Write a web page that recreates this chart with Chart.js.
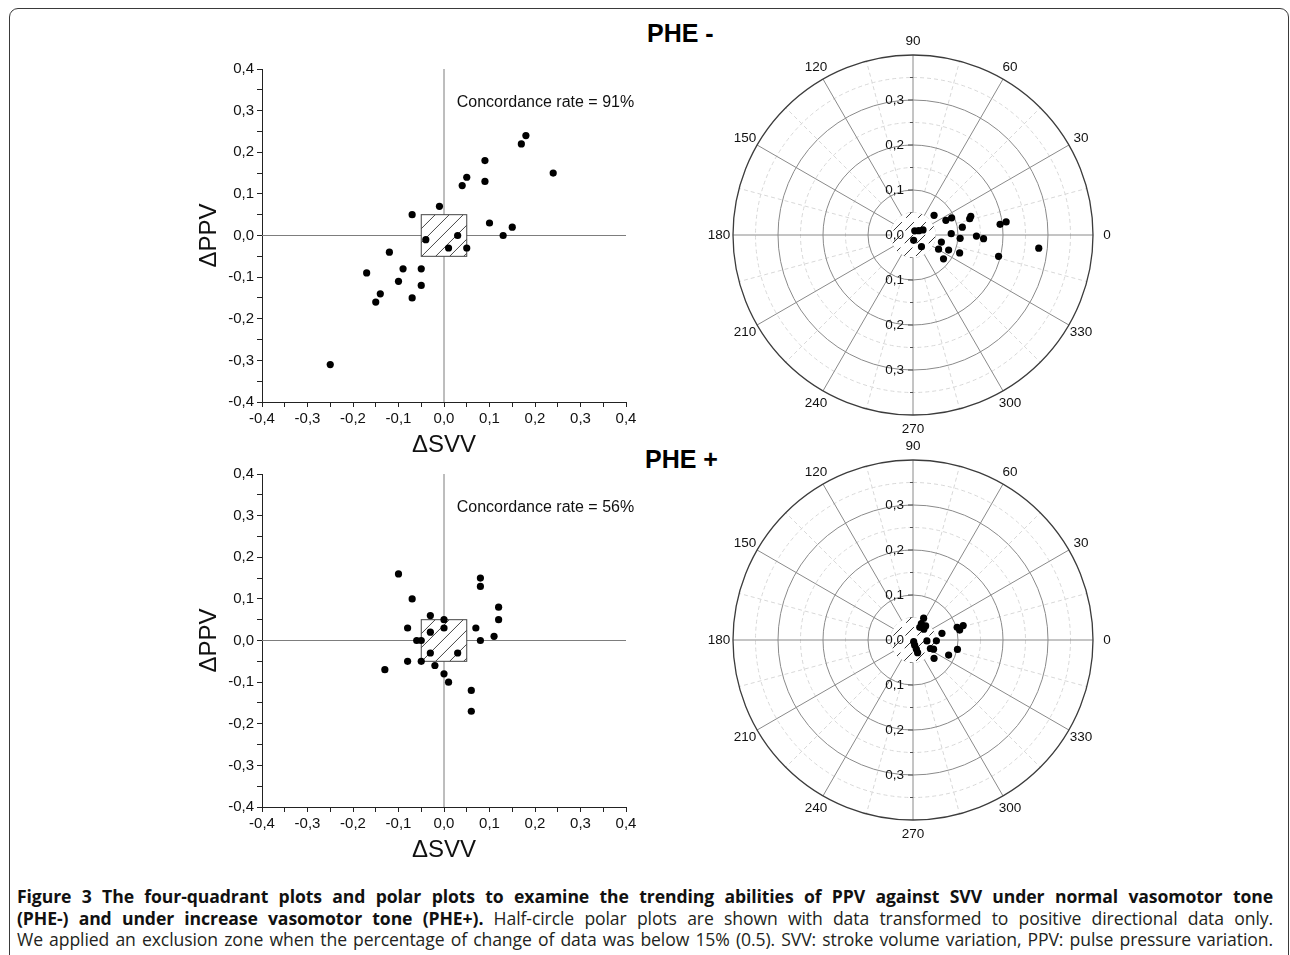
<!DOCTYPE html>
<html>
<head>
<meta charset="utf-8">
<script src="https://cdn.jsdelivr.net/npm/chart.js@4.4.1/dist/chart.umd.min.js"></script>
<style>
  html, body { margin: 0; padding: 0; background: #fff; }
  #page { position: relative; width: 1290px; height: 955px; overflow: hidden; }
  #frame { position: absolute; left: 9px; top: 8px; width: 1278px; height: 1000px;
           border: 1.5px solid #3a3a3a; border-radius: 9px; }
  canvas { position: absolute; }
  .phe { position: absolute; font: bold 25px "Liberation Sans", Arial, sans-serif; color: #000; }
  .cap { position: absolute; left: 17px; width: 1256px; font-family: "Open Sans", sans-serif;
         font-size: 17.6px; color: #231f20; white-space: nowrap; text-align: justify;
         text-align-last: justify; line-height: 21px; letter-spacing: -0.1px; }
  .cap b { color: #111; }
</style>
</head>
<body>
<div id="page">
  <div id="frame"></div>
  <div class="phe" style="left:647px; top:19px;">PHE -</div>
  <div class="phe" style="left:645px; top:445px;">PHE +</div>

  <canvas id="quadTop" width="480" height="410" style="left:170px; top:55px;"></canvas>
  <canvas id="quadBottom" width="480" height="410" style="left:170px; top:460px;"></canvas>
  <canvas id="polarTop" width="440" height="440" style="left:693px; top:15px;"></canvas>
  <canvas id="polarBottom" width="440" height="440" style="left:693px; top:420px;"></canvas>

  <div class="cap" style="top:886px;"><b>Figure 3 The four-quadrant plots and polar plots to examine the trending abilities of PPV against SVV under normal vasomotor tone</b></div>
  <div class="cap" style="top:908px;"><b>(PHE-) and under increase vasomotor tone (PHE+).</b> Half-circle polar plots are shown with data transformed to positive directional data only.</div>
  <div class="cap" style="top:929px;">We applied an exclusion zone when the percentage of change of data was below 15% (0.5). SVV: stroke volume variation, PPV: pulse pressure variation.</div>
</div>

<script>
// ── Four-quadrant data (ΔSVV, ΔPPV) ─────────────────────────────────────
var pheMinusSVV = [-0.25, -0.17, -0.15, -0.14, -0.12, -0.10, -0.09, -0.07, -0.07, -0.05, -0.05, -0.04, -0.01,
                    0.01,  0.03,  0.05,  0.04,  0.05,  0.09,  0.09,  0.10,  0.13,  0.15,  0.17,  0.18,  0.24];
var pheMinusPPV = [-0.31, -0.09, -0.16, -0.14, -0.04, -0.11, -0.08, -0.15,  0.05, -0.08, -0.12, -0.01,  0.07,
                   -0.03,  0.00, -0.03,  0.12,  0.14,  0.18,  0.13,  0.03,  0.00,  0.02,  0.22,  0.24,  0.15];

var phePlusSVV = [-0.13, -0.10, -0.08, -0.08, -0.07, -0.06, -0.05, -0.05, -0.03, -0.03, -0.03, -0.02, 0.00,
                   0.00,  0.00,  0.01,  0.03,  0.06,  0.06,  0.07,  0.08,  0.08,  0.08,  0.11,  0.12,  0.12];
var phePlusPPV = [-0.07,  0.16,  0.03, -0.05,  0.10,  0.00,  0.00, -0.05,  0.06,  0.02, -0.03, -0.06, 0.05,
                   0.03, -0.08, -0.10, -0.03, -0.12, -0.17,  0.03,  0.15,  0.13,  0.00,  0.01,  0.05,  0.08];

// ── Polar data (angle in degrees, radius) ───────────────────────────────
var pheMinusAngle  = [43, 24, 24, 16, 18, 9, 2, 356, 359, 357, 7, 8, 346, 331, 337, 322, 339, 346, 354, 67, 37, 27, 277, 306];
var pheMinusRadius = [0.064, 0.080, 0.094, 0.131, 0.135, 0.111, 0.085, 0.105, 0.141, 0.157, 0.195, 0.209,
                      0.065, 0.065, 0.086, 0.086, 0.111, 0.196, 0.281, 0.010, 0.016, 0.025, 0.012, 0.032];

var phePlusAngle  = [64, 62, 45, 48, 63, 292, 288, 290, 290, 356, 358, 334, 336, 319, 13, 337, 16, 12, 16, 348];
var phePlusRadius = [0.054, 0.032, 0.034, 0.042, 0.041, 0.004, 0.012, 0.022, 0.030, 0.031, 0.052,
                     0.043, 0.050, 0.062, 0.066, 0.086, 0.102, 0.106, 0.116, 0.101];

// ── Axis ticks / labels ─────────────────────────────────────────────────
var exclusionZone = 0.05;
var angleTicks = [0, 30, 60, 90, 120, 150, 180, 210, 240, 270, 300, 330];
var radialMajor = [0.1, 0.2, 0.3];
var radialMinor = [0.05, 0.15, 0.25, 0.35];
var radialMax = 0.4;

var FONT = '"Liberation Sans", Arial, sans-serif';

function fmtTick(v) {
    var k = Math.round(v * 100);
    if (k % 10 !== 0) return '';
    return (k / 100).toFixed(1).replace('.', ',');
}

// ── Crosshair, hatched exclusion box and concordance text ───────────────
var quadrantPlugin = {
    id: 'quadrant',
    beforeDatasetsDraw: function (chart, args, opts) {
        var ctx = chart.ctx, a = chart.chartArea;
        var x = chart.scales.x, y = chart.scales.y;
        var x0 = x.getPixelForValue(0), y0 = y.getPixelForValue(0);
        ctx.save();
        ctx.strokeStyle = '#7d7d7d';
        ctx.lineWidth = 1;
        ctx.beginPath();
        ctx.moveTo(a.left, y0); ctx.lineTo(a.right, y0);
        ctx.moveTo(x0, a.top); ctx.lineTo(x0, a.bottom);
        ctx.stroke();

        var l = x.getPixelForValue(-exclusionZone), r = x.getPixelForValue(exclusionZone);
        var t = y.getPixelForValue(exclusionZone), b = y.getPixelForValue(-exclusionZone);
        ctx.fillStyle = '#fff';
        ctx.fillRect(l, t, r - l, b - t);
        ctx.save();
        ctx.beginPath();
        ctx.rect(l, t, r - l, b - t);
        ctx.clip();
        ctx.strokeStyle = '#333';
        ctx.lineWidth = 0.9;
        ctx.beginPath();
        for (var s = l - (b - t); s < r + 2; s += 14) {
            ctx.moveTo(s, b);
            ctx.lineTo(s + (b - t), t);
        }
        ctx.stroke();
        ctx.restore();
        ctx.strokeStyle = '#444';
        ctx.lineWidth = 1;
        ctx.strokeRect(l, t, r - l, b - t);

        ctx.fillStyle = '#111';
        ctx.font = '16px ' + FONT;
        ctx.textBaseline = 'middle';
        ctx.textAlign = 'left';
        ctx.fillText(opts.text, x.getPixelForValue(0.028), y.getPixelForValue(0.32));
        ctx.restore();
    }
};

function quadChart(id, xs, ys, label) {
    var pts = xs.map(function (v, i) { return { x: v, y: ys[i] }; });
    var axis = function (title, isX) {
        return {
            type: 'linear', min: -0.4, max: 0.4,
            afterFit: function (s) { if (isX) s.height = 63; else s.width = 92; },
            ticks: {
                stepSize: 0.05, autoSkip: false, maxRotation: 0, color: '#111',
                font: { family: FONT, size: 15 }, callback: fmtTick
            },
            grid: { drawOnChartArea: false, tickLength: 5, color: '#222' },
            border: { color: '#222', width: 1 },
            title: {
                display: true, text: title, color: '#111',
                font: { family: FONT, size: 24, lineHeight: 1 },
                padding: isX ? { top: 0, bottom: 8 } : { top: 27, bottom: 0 }
            }
        };
    };
    return new Chart(document.getElementById(id), {
        type: 'scatter',
        data: {
            datasets: [{
                data: pts, backgroundColor: '#000', borderColor: '#000', borderWidth: 0,
                pointRadius: 3.6, pointHoverRadius: 3.6
            }]
        },
        options: {
            responsive: false, animation: false, events: [],
            layout: { padding: { top: 14, right: 24, left: 0, bottom: 0 } },
            plugins: { legend: { display: false }, tooltip: { enabled: false }, quadrant: { text: label } },
            scales: { x: axis('\u0394SVV', true), y: axis('\u0394PPV', false) }
        },
        plugins: [quadrantPlugin]
    });
}

// ── Polar grid drawn on a hidden square x/y scale ───────────────────────
var polarGridPlugin = {
    id: 'polarGrid',
    beforeDatasetsDraw: function (chart) {
        var ctx = chart.ctx, x = chart.scales.x, y = chart.scales.y;
        var cx = x.getPixelForValue(0), cy = y.getPixelForValue(0);
        var u = x.getPixelForValue(1) - cx;
        var R = radialMax * u;
        ctx.save();

        // minor rings and spokes
        ctx.strokeStyle = '#d8d8d8';
        ctx.lineWidth = 1;
        ctx.setLineDash([4, 3]);
        radialMinor.forEach(function (r) {
            ctx.beginPath(); ctx.arc(cx, cy, r * u, 0, Math.PI * 2); ctx.stroke();
        });
        angleTicks.forEach(function (a) {
            var rad = (a + 15) * Math.PI / 180;
            ctx.beginPath();
            ctx.moveTo(cx + Math.cos(rad) * 0.1 * u, cy - Math.sin(rad) * 0.1 * u);
            ctx.lineTo(cx + Math.cos(rad) * R, cy - Math.sin(rad) * R);
            ctx.stroke();
        });
        ctx.setLineDash([]);

        // major rings and spokes
        ctx.strokeStyle = '#8a8a8a';
        radialMajor.forEach(function (r) {
            ctx.beginPath(); ctx.arc(cx, cy, r * u, 0, Math.PI * 2); ctx.stroke();
        });
        angleTicks.forEach(function (a) {
            var rad = a * Math.PI / 180;
            ctx.beginPath();
            ctx.moveTo(cx, cy);
            ctx.lineTo(cx + Math.cos(rad) * R, cy - Math.sin(rad) * R);
            ctx.stroke();
        });

        // radial axis ticks on the vertical line
        ctx.strokeStyle = '#555';
        radialMajor.concat(radialMinor).forEach(function (r) {
            var len = radialMajor.indexOf(r) >= 0 ? 5 : 3;
            [-1, 1].forEach(function (sg) {
                ctx.beginPath();
                ctx.moveTo(cx - len, cy + sg * r * u);
                ctx.lineTo(cx, cy + sg * r * u);
                ctx.stroke();
            });
        });

        // outer circle
        ctx.strokeStyle = '#3c3c3c';
        ctx.lineWidth = 1.3;
        ctx.beginPath(); ctx.arc(cx, cy, R, 0, Math.PI * 2); ctx.stroke();

        // exclusion disk with hatch
        var er = exclusionZone * u;
        ctx.fillStyle = '#fff';
        ctx.beginPath(); ctx.arc(cx, cy, er, 0, Math.PI * 2); ctx.fill();
        ctx.save();
        ctx.beginPath(); ctx.arc(cx, cy, er, 0, Math.PI * 2); ctx.clip();
        ctx.strokeStyle = '#222';
        ctx.lineWidth = 0.9;
        ctx.setLineDash([12, 6]);
        ctx.beginPath();
        for (var k = -2; k <= 2; k++) {
            var off = k * 12;
            ctx.moveTo(cx - er * 1.5 + off, cy + er * 1.5);
            ctx.lineTo(cx + er * 1.5 + off, cy - er * 1.5);
        }
        ctx.stroke();
        ctx.setLineDash([]);
        ctx.restore();

        // labels
        ctx.fillStyle = '#111';
        ctx.font = '13.5px ' + FONT;
        ctx.textBaseline = 'middle';
        ctx.textAlign = 'right';
        ctx.fillText('0,0', cx - 9, cy);
        radialMajor.forEach(function (r) {
            var txt = r.toFixed(1).replace('.', ',');
            ctx.fillText(txt, cx - 9, cy - r * u);
            ctx.fillText(txt, cx - 9, cy + r * u);
        });
        ctx.textAlign = 'center';
        angleTicks.forEach(function (a) {
            var rad = a * Math.PI / 180;
            ctx.fillText(String(a), cx + Math.cos(rad) * (R + 14), cy - Math.sin(rad) * (R + 14));
        });
        ctx.restore();
    }
};

function polarChart(id, angles, radii) {
    var pts = angles.map(function (a, i) {
        var rad = a * Math.PI / 180;
        return { x: radii[i] * Math.cos(rad), y: radii[i] * Math.sin(rad) };
    });
    var hidden = { type: 'linear', min: -radialMax, max: radialMax, display: false };
    return new Chart(document.getElementById(id), {
        type: 'scatter',
        data: {
            datasets: [{
                data: pts, backgroundColor: '#000', borderColor: '#000', borderWidth: 0,
                pointRadius: 3.6, pointHoverRadius: 3.6
            }]
        },
        options: {
            responsive: false, animation: false, events: [],
            layout: { padding: 40 },
            plugins: { legend: { display: false }, tooltip: { enabled: false } },
            scales: { x: hidden, y: hidden }
        },
        plugins: [polarGridPlugin]
    });
}

quadChart('quadTop', pheMinusSVV, pheMinusPPV, 'Concordance rate = 91%');
quadChart('quadBottom', phePlusSVV, phePlusPPV, 'Concordance rate = 56%');
polarChart('polarTop', pheMinusAngle, pheMinusRadius);
polarChart('polarBottom', phePlusAngle, phePlusRadius);
</script>
</body>
</html>
